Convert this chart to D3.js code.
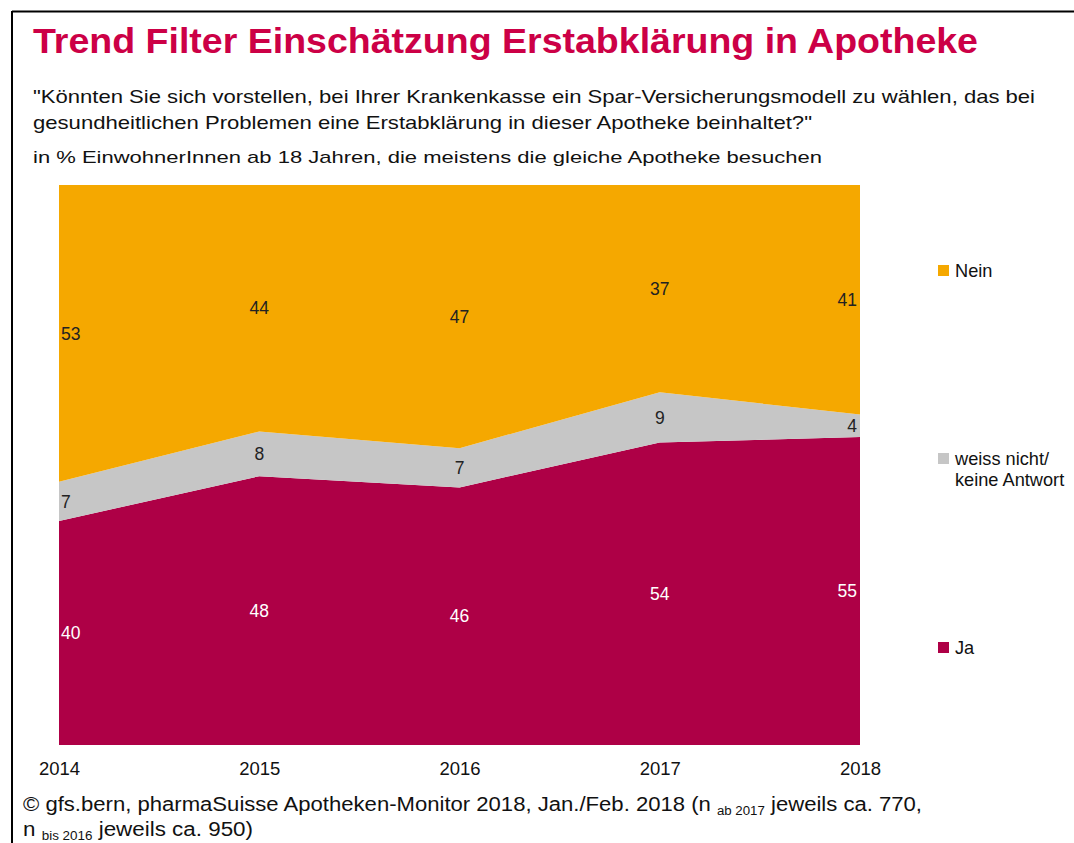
<!DOCTYPE html>
<html><head><meta charset="utf-8">
<script src="https://cdn.jsdelivr.net/npm/d3@7"></script>
<style>body{margin:0;background:#fff;}svg{display:block;font-family:"Liberation Sans",Arial,sans-serif;}</style>
</head><body>
<svg id="chart" width="1074" height="843"></svg>
<script>
const years = [2014, 2015, 2016, 2017, 2018];
const ja = [40, 48, 46, 54, 55];
const weissNicht = [7, 8, 7, 9, 4];
const nein = [53, 44, 47, 37, 41];
const seriesKeys = ["Ja", "weiss nicht", "Nein"];
const seriesColors = ["#AE0046", "#C6C6C6", "#F5A800"];
const labelColors = ["#ffffff", "#222222", "#222222"];
const legendLabels = [["Ja"], ["weiss nicht/", "keine Antwort"], ["Nein"]];

const rows = years.map((y, i) => ({year: y, "Ja": ja[i], "weiss nicht": weissNicht[i], "Nein": nein[i]}));
const stacked = d3.stack().keys(seriesKeys)(rows);

const svg = d3.select("#chart");
// frame lines
svg.append("line").attr("x1", 12).attr("x2", 1074).attr("y1", 11.5).attr("y2", 11.5).attr("stroke", "#000").attr("stroke-width", 2);
svg.append("line").attr("x1", 12).attr("x2", 12).attr("y1", 11).attr("y2", 843).attr("stroke", "#000").attr("stroke-width", 2);

// titles
svg.append("text").attr("x", 33).attr("y", 53).attr("fill", "#CC0046")
  .attr("font-size", 35).attr("font-weight", "bold")
  .attr("textLength", 945).attr("lengthAdjust", "spacingAndGlyphs")
  .text("Trend Filter Einschätzung Erstabklärung in Apotheke");
svg.append("text").attr("x", 33).attr("y", 103).attr("fill", "#111").attr("font-size", 18.5)
  .attr("textLength", 1002).attr("lengthAdjust", "spacingAndGlyphs")
  .text("\"Könnten Sie sich vorstellen, bei Ihrer Krankenkasse ein Spar-Versicherungsmodell zu wählen, das bei");
svg.append("text").attr("x", 33).attr("y", 129).attr("fill", "#111").attr("font-size", 18.5)
  .attr("textLength", 779).attr("lengthAdjust", "spacingAndGlyphs")
  .text("gesundheitlichen Problemen eine Erstabklärung in dieser Apotheke beinhaltet?\"");
svg.append("text").attr("x", 33).attr("y", 163).attr("fill", "#111").attr("font-size", 17)
  .attr("textLength", 789).attr("lengthAdjust", "spacingAndGlyphs")
  .text("in % EinwohnerInnen ab 18 Jahren, die meistens die gleiche Apotheke besuchen");

const x = d3.scaleLinear().domain([years[0], years[years.length - 1]]).range([59, 860]);
const y = d3.scaleLinear().domain([0, 100]).range([745, 185]);

const area = d3.area().x(d => x(d.data.year)).y0(d => y(d[0])).y1(d => y(d[1]));
svg.append("g").selectAll("path").data(stacked).join("path")
  .attr("d", area).attr("fill", (d, i) => seriesColors[i]);

// value labels
stacked.forEach((s, si) => {
  svg.append("g").selectAll("text").data(s).join("text")
    .attr("x", (d, i) => i === 0 ? x(d.data.year) + 2 : i === s.length - 1 ? x(d.data.year) - 3 : x(d.data.year))
    .attr("y", d => y((d[0] + d[1]) / 2))
    .attr("dy", "0.35em")
    .attr("text-anchor", (d, i) => i === 0 ? "start" : i === s.length - 1 ? "end" : "middle")
    .attr("font-size", 17.5).attr("fill", labelColors[si])
    .text(d => d.data[s.key]);
});

// x axis
const xAxis = d3.axisBottom(x).tickValues(years).tickFormat(d3.format("d")).tickSize(0).tickPadding(0);
const ax = svg.append("g").attr("transform", "translate(0,762)").call(xAxis);
ax.select(".domain").remove();
ax.selectAll("text").attr("font-size", 18.5).attr("fill", "#111").attr("dy", "0.71em")
  .attr("font-family", "'Liberation Sans', Arial, sans-serif");

// legend
const legY = [642, 453, 265];
seriesKeys.forEach((k, i) => {
  const g = svg.append("g");
  g.append("rect").attr("x", 938).attr("y", legY[i]).attr("width", 11).attr("height", 11).attr("fill", seriesColors[i]);
  legendLabels[i].forEach((t, j) => {
    g.append("text").attr("x", 955).attr("y", legY[i] + 12 + j * 21).attr("font-size", 18.2).attr("fill", "#111").text(t);
  });
});

// footer
const f1 = svg.append("text").attr("x", 23).attr("y", 811).attr("font-size", 20).attr("fill", "#111")
  .attr("textLength", 899).attr("lengthAdjust", "spacingAndGlyphs");
f1.append("tspan").text("© gfs.bern, pharmaSuisse Apotheken-Monitor 2018, Jan./Feb. 2018 (n ");
f1.append("tspan").attr("font-size", 12).attr("dy", 4).text("ab 2017");
f1.append("tspan").attr("dy", -4).text(" jeweils ca. 770,");
const f2 = svg.append("text").attr("x", 23).attr("y", 836).attr("font-size", 20).attr("fill", "#111")
  .attr("textLength", 230).attr("lengthAdjust", "spacingAndGlyphs");
f2.append("tspan").text("n ");
f2.append("tspan").attr("font-size", 12).attr("dy", 4).text("bis 2016");
f2.append("tspan").attr("dy", -4).text(" jeweils ca. 950)");
</script>
</body></html>
